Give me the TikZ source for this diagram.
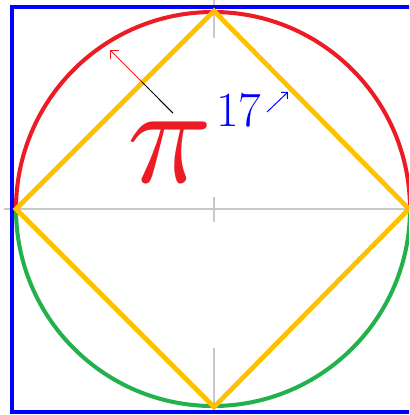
\documentclass[tikz,border=0pt]{standalone}
\usepackage{fontspec}
\usetikzlibrary{arrows.meta}
\definecolor{pired}{RGB}{237,28,36}
\definecolor{ringgreen}{RGB}{34,177,76}
\definecolor{diamyellow}{RGB}{255,192,0}
\definecolor{guidegray}{RGB}{200,200,200}
\tikzset{
    guide/.style={guidegray,line width=0.85pt},
    ring/.style={line width=2.3pt},
    barb/.style={-{Straight Barb[length=1.2mm,width=2.4mm]},line width=0.55pt}
}
\begin{document}
\begin{tikzpicture}[x=0.02cm,y=-0.02cm]
            \useasboundingbox (0,0) rectangle (409,415);
            \clip (0,0) rectangle (409,415);
            \draw[guide] (4,209) -- (409,209);
            \foreach \a/\b in {0/38,197/222,348/410} {
                \draw[guide] (214,\a) -- (214,\b);
            }
            \draw[blue,line width=2.8pt] (12,7) rectangle (416,412);
            \draw[ring,pired] (16,209) arc[start angle=180,end angle=360,radius=197];
            \draw[ring,ringgreen] (16,209) arc[start angle=180,end angle=0,radius=197];
            \draw[diamyellow,line width=2.7pt] (214,11) -- (409,209) -- (214,407) -- (16,209) -- cycle;
            \node[pired,inner sep=0,anchor=base] (pisym) at (170,182) {\scalebox{8}{$\pi$}};
            \node[blue,inner sep=0,anchor=base west] (expo) at (216,127) {\fontsize{28}{28}\selectfont 17};
            \coordinate (bend) at (142,82);
            \coordinate (redtip) at (110,50);
            \coordinate (bluetail) at (267,112);
            \coordinate (bluetip) at (288,92);
            \draw[black,line width=0.55pt] ([shift={(3,-8)}]pisym.north) -- (bend);
            \draw[barb,pired] (bend) -- (redtip);
            \draw[barb,blue,-{Straight Barb[length=0.9mm,width=1.8mm]}] (bluetail) -- (bluetip);
        \end{tikzpicture}
\end{document}
